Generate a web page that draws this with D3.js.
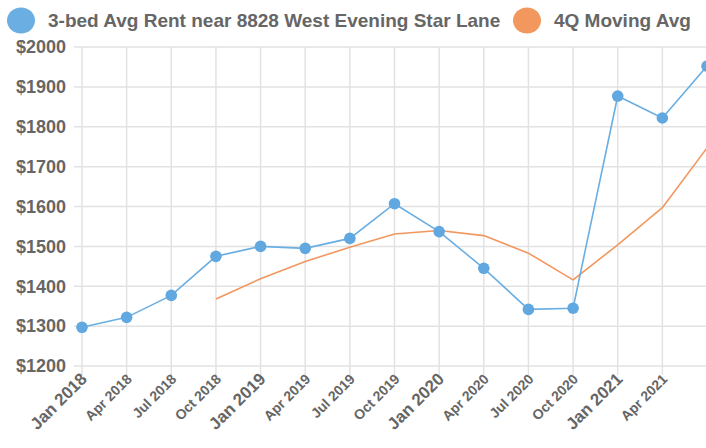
<!DOCTYPE html>
<html>
<head>
<meta charset="utf-8">
<script src="https://cdn.jsdelivr.net/npm/d3@7"></script>
<style>
  body { margin: 0; background: #fff; overflow: hidden; }
  svg text { font-family: "Liberation Sans", Arial, sans-serif; font-weight: bold; fill: #666; }
</style>
</head>
<body>
<div id="chart"></div>
<script>
// quarters shown on the x axis (last one has no label)
const quarters = ['Jan 2018', 'Apr 2018', 'Jul 2018', 'Oct 2018', 'Jan 2019', 'Apr 2019', 'Jul 2019',
  'Oct 2019', 'Jan 2020', 'Apr 2020', 'Jul 2020', 'Oct 2020', 'Jan 2021', 'Apr 2021', 'Jul 2021'];
const rentValues = [1297, 1322, 1377, 1475, 1500, 1495, 1520, 1607, 1537, 1445, 1342, 1345, 1877, 1822, 1952];
// moving average starts at the 4th quarter
const movingAvg = [null, null, null, 1368, 1419, 1462, 1498, 1531, 1540, 1527, 1483, 1416, 1504, 1597, 1747];
const yTicks = [1200, 1300, 1400, 1500, 1600, 1700, 1800, 1900, 2000];
const seriesNames = ['3-bed Avg Rent near 8828 West Evening Star Lane', '4Q Moving Avg'];
const seriesColors = ['#6aaee2', '#f2975e'];

const width = 706, height = 448;
const margin = { top: 47, right: -1, bottom: 82, left: 82 };

const svg = d3.select('#chart').append('svg')
  .attr('width', width)
  .attr('height', height);

const x = d3.scaleLinear()
  .domain([0, quarters.length - 1])
  .range([margin.left, width - margin.right]);

const y = d3.scaleLinear()
  .domain([1200, 2000])
  .range([height - margin.bottom, margin.top]);

// horizontal grid
svg.append('g')
  .selectAll('line')
  .data(yTicks)
  .enter().append('line')
  .attr('x1', margin.left - 8)
  .attr('x2', width)
  .attr('y1', d => y(d))
  .attr('y2', d => y(d))
  .attr('stroke', '#e2e2e2')
  .attr('stroke-width', 1.5);

// vertical grid
svg.append('g')
  .selectAll('line')
  .data(quarters.slice(0, -1))
  .enter().append('line')
  .attr('x1', (d, i) => x(i))
  .attr('x2', (d, i) => x(i))
  .attr('y1', margin.top)
  .attr('y2', height - margin.bottom + 9)
  .attr('stroke', '#e2e2e2')
  .attr('stroke-width', 1.5);

// y labels
svg.append('g')
  .selectAll('text')
  .data(yTicks)
  .enter().append('text')
  .attr('x', margin.left - 16)
  .attr('y', d => y(d))
  .attr('dy', '0.35em')
  .attr('text-anchor', 'end')
  .style('font-size', '18px')
  .text(d => '$' + d);

// x labels, rotated
svg.append('g')
  .selectAll('text')
  .data(quarters.slice(0, -1))
  .enter().append('text')
  .attr('text-anchor', 'end')
  .attr('transform', (d, i) => `translate(${x(i) + 6}, ${height - margin.bottom + 14}) rotate(-45)`)
  .style('font-size', d => d.startsWith('Jan') ? '17px' : '14px')
  .text(d => d);

// moving average line
const maLine = d3.line()
  .defined(d => d != null)
  .x((d, i) => x(i))
  .y(d => y(d));

svg.append('path')
  .datum(movingAvg)
  .attr('fill', 'none')
  .attr('stroke', seriesColors[1])
  .attr('stroke-width', 1.6)
  .attr('stroke-linejoin', 'round')
  .attr('d', maLine);

// rent line
const rentLine = d3.line()
  .x((d, i) => x(i))
  .y(d => y(d));

svg.append('path')
  .datum(rentValues)
  .attr('fill', 'none')
  .attr('stroke', seriesColors[0])
  .attr('stroke-width', 1.6)
  .attr('d', rentLine);

svg.append('g')
  .selectAll('circle')
  .data(rentValues)
  .enter().append('circle')
  .attr('cx', (d, i) => x(i))
  .attr('cy', d => y(d))
  .attr('r', 5.8)
  .attr('fill', '#62a8e0');

// legend
const legend = svg.append('g');
const legendX = [21, 527];
seriesNames.forEach((name, i) => {
  legend.append('ellipse')
    .attr('cx', legendX[i])
    .attr('cy', 20.5)
    .attr('rx', 14)
    .attr('ry', 13)
    .attr('fill', seriesColors[i]);
  legend.append('text')
    .attr('x', legendX[i] + 27)
    .attr('y', 20.5)
    .attr('dy', '0.35em')
    .style('font-size', '19px')
    .text(name);
});
</script>
</body>
</html>
